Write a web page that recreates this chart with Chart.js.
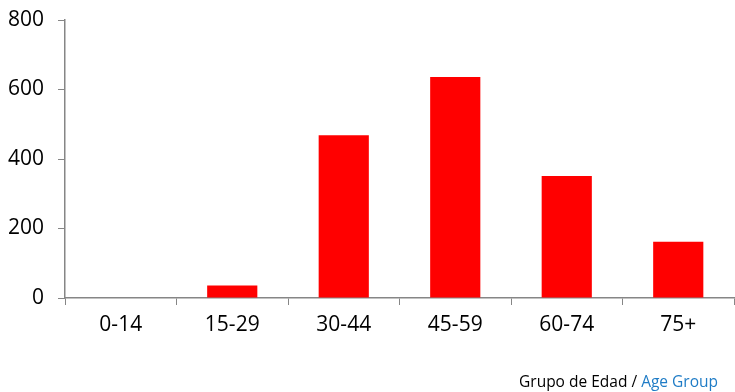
<!DOCTYPE html>
<html>
<head>
<meta charset="utf-8">
<script src="https://cdn.jsdelivr.net/npm/chart.js@4"></script>
<style>
  body { margin: 0; background: #fff; }
  #wrap { position: relative; width: 735px; height: 392px; }
  #caption {
    position: absolute; right: 17px; top: 370px;
    font-family: "Open Sans", sans-serif; font-size: 15.5px; color: #000;
  }
  #caption .en { color: #1f7cc6; }
</style>
</head>
<body>
<div id="wrap">
  <canvas id="myChart" width="735" height="392"></canvas>
  <div id="caption">Grupo de Edad / <span class="en">Age Group</span></div>
</div>
<script>
document.addEventListener('DOMContentLoaded', function() {

const labels = ['0-14', '15-29', '30-44', '45-59', '60-74', '75+'];
const values = [0, 36, 468, 636, 351, 162];
const yTicks = [0, 200, 400, 600, 800];

const axisColor = '#868686';
const ctx = document.getElementById('myChart');

new Chart(ctx, {
    type: 'bar',
    data: {
        labels: labels,
        datasets: [{
            data: values,
            backgroundColor: '#ff0000',
            borderWidth: 0,
            barPercentage: 0.45,
            categoryPercentage: 1
        }]
    },
    options: {
        responsive: false,
        animation: false,
        layout: { padding: { top: 20, right: 1, left: 0, bottom: 0 } },
        plugins: {
            legend: { display: false },
            tooltip: { enabled: false }
        },
        scales: {
            x: {
                grid: { drawOnChartArea: false, drawTicks: true, tickLength: 7, color: axisColor },
                border: { color: axisColor, width: 1.5 },
                ticks: { color: '#000', padding: 7, font: { family: 'Open Sans', size: 21 } },
                afterFit: function(scale) {
                    scale.height = 94;
                    scale.paddingLeft = 0;
                    scale.paddingRight = 0;
                }
            },
            y: {
                min: 0,
                max: 800,
                afterBuildTicks: function(scale) {
                    scale.ticks = yTicks.map(v => ({ value: v }));
                },
                grid: { drawOnChartArea: false, drawTicks: true, tickLength: 7, color: axisColor },
                border: { color: axisColor, width: 1.5 },
                ticks: { color: '#000', padding: 14, font: { family: 'Open Sans', size: 21 } },
                afterFit: function(scale) {
                    scale.width = 65;
                    scale.paddingTop = 0;
                    scale.paddingBottom = 0;
                }
            }
        }
    }
});

});
</script>
</body>
</html>
